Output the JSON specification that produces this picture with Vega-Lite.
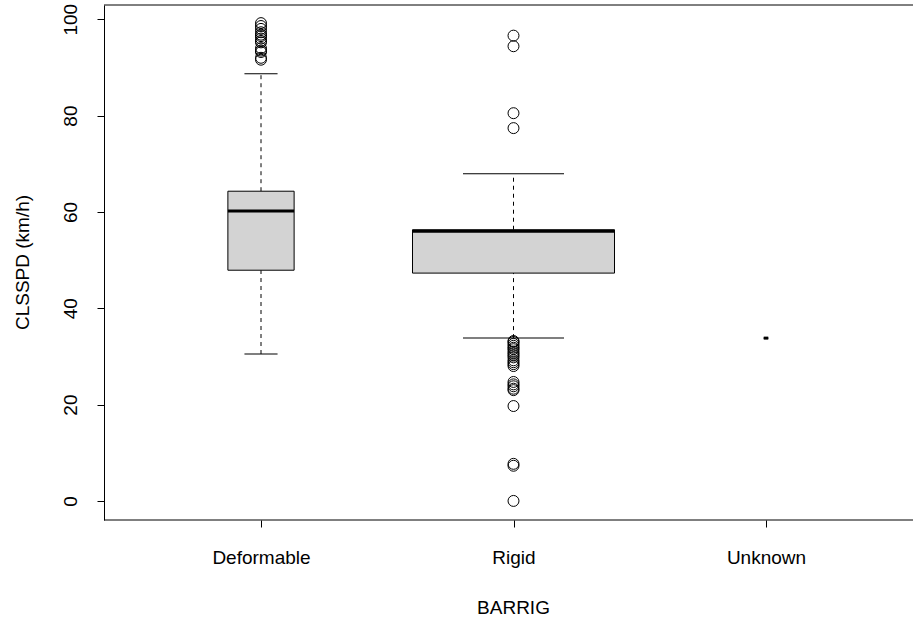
{
  "$schema": "https://vega.github.io/schema/vega-lite/v6.json",
  "autosize": {"type": "none"},
  "width": 809,
  "height": 515,
  "padding": {"left": 104, "top": 5, "right": 0, "bottom": 101},
  "background": "white",
  "config": {
    "view": {"stroke": null},
    "font": "Liberation Sans",
    "axis": {"labelFont": "Liberation Sans", "titleFont": "Liberation Sans", "labelColor": "black", "titleColor": "black", "tickColor": "black", "domainColor": "black", "grid": false, "titleFontWeight": "normal"}
  },
  "datasets": {
    "stats": [
      {"group": "Deformable", "n": 215, "lo": 30.5, "q1": 47.9, "med": 60.2, "q3": 64.3, "hi": 88.7},
      {"group": "Rigid", "n": 2000, "lo": 33.8, "q1": 47.3, "med": 56.0, "q3": 56.3, "hi": 67.9},
      {"group": "Unknown", "n": 1, "lo": 33.8, "q1": 33.8, "med": 33.8, "q3": 33.8, "hi": 33.8}
    ],
    "outliers": [
      {"group": "Deformable", "value": 99.2},
      {"group": "Deformable", "value": 98.6},
      {"group": "Deformable", "value": 98.0},
      {"group": "Deformable", "value": 97.3},
      {"group": "Deformable", "value": 96.8},
      {"group": "Deformable", "value": 96.5},
      {"group": "Deformable", "value": 96.0},
      {"group": "Deformable", "value": 95.5},
      {"group": "Deformable", "value": 95.2},
      {"group": "Deformable", "value": 94.0},
      {"group": "Deformable", "value": 93.5},
      {"group": "Deformable", "value": 93.2},
      {"group": "Deformable", "value": 92.0},
      {"group": "Deformable", "value": 91.6},
      {"group": "Rigid", "value": 96.6},
      {"group": "Rigid", "value": 94.4},
      {"group": "Rigid", "value": 80.5},
      {"group": "Rigid", "value": 77.4},
      {"group": "Rigid", "value": 33.2},
      {"group": "Rigid", "value": 33.0},
      {"group": "Rigid", "value": 32.6},
      {"group": "Rigid", "value": 32.2},
      {"group": "Rigid", "value": 31.8},
      {"group": "Rigid", "value": 31.5},
      {"group": "Rigid", "value": 31.0},
      {"group": "Rigid", "value": 30.6},
      {"group": "Rigid", "value": 30.2},
      {"group": "Rigid", "value": 29.8},
      {"group": "Rigid", "value": 29.2},
      {"group": "Rigid", "value": 28.8},
      {"group": "Rigid", "value": 28.4},
      {"group": "Rigid", "value": 28.0},
      {"group": "Rigid", "value": 24.7},
      {"group": "Rigid", "value": 24.2},
      {"group": "Rigid", "value": 23.8},
      {"group": "Rigid", "value": 23.3},
      {"group": "Rigid", "value": 23.0},
      {"group": "Rigid", "value": 19.7},
      {"group": "Rigid", "value": 7.7},
      {"group": "Rigid", "value": 7.3},
      {"group": "Rigid", "value": 0.0}
    ]
  },
  "layer": [
    {
      "data": {"name": "stats"},
      "mark": {"type": "rule", "color": "black", "strokeWidth": 1, "strokeDash": [4, 4]},
      "encoding": {
        "x": {"field": "group", "type": "nominal", "scale": {"type": "point", "domain": ["Deformable", "Rigid", "Unknown"], "range": [157, 662], "padding": 0},
          "axis": {"title": "BARRIG", "domain": false, "tickSize": 7, "labelFontSize": 19, "labelPadding": 21, "labelAngle": 0, "titleFontSize": 19, "titleX": 409, "titleY": 93, "titleBaseline": "alphabetic"}},
        "y": {"field": "q3", "type": "quantitative", "scale": {"domain": [-3.96, 102.96], "nice": false, "zero": false},
          "axis": {"title": "CLSSPD (km/h)", "values": [0, 20, 40, 60, 80, 100], "tickSize": 7, "labelFontSize": 19, "labelAngle": -90, "labelAlign": "center", "labelBaseline": "alphabetic", "labelPadding": 21, "titleFontSize": 19, "titleAngle": -90, "titleX": -76, "titleY": 257, "titleBaseline": "alphabetic", "titleAlign": "center"}},
        "y2": {"field": "hi"}
      }
    },
    {
      "data": {"name": "stats"},
      "mark": {"type": "rule", "color": "black", "strokeWidth": 1, "strokeDash": [4, 4]},
      "encoding": {
        "x": {"field": "group", "type": "nominal"},
        "y": {"field": "lo", "type": "quantitative"},
        "y2": {"field": "q1"}
      }
    },
    {
      "data": {"name": "stats"},
      "mark": {"type": "bar", "fill": "#d3d3d3", "stroke": "black", "strokeWidth": 1},
      "encoding": {
        "x": {"field": "group", "type": "nominal"},
        "y": {"field": "q1", "type": "quantitative"},
        "y2": {"field": "q3"},
        "size": {"field": "n", "type": "quantitative", "scale": {"type": "sqrt", "domain": [0, 2000], "range": [0, 202]}, "legend": null}
      }
    },
    {
      "data": {"name": "stats"},
      "mark": {"type": "tick", "color": "black", "thickness": 3, "opacity": 1},
      "encoding": {
        "x": {"field": "group", "type": "nominal"},
        "y": {"field": "med", "type": "quantitative"},
        "size": {"field": "n", "type": "quantitative", "scale": {"type": "sqrt", "domain": [0, 2000], "range": [0, 202]}, "legend": null}
      }
    },
    {
      "data": {"name": "stats"},
      "mark": {"type": "tick", "color": "black", "thickness": 1, "opacity": 1},
      "encoding": {
        "x": {"field": "group", "type": "nominal"},
        "y": {"field": "hi", "type": "quantitative"},
        "size": {"field": "n", "type": "quantitative", "scale": {"type": "sqrt", "domain": [0, 2000], "range": [0, 101]}, "legend": null}
      }
    },
    {
      "data": {"name": "stats"},
      "mark": {"type": "tick", "color": "black", "thickness": 1, "opacity": 1},
      "encoding": {
        "x": {"field": "group", "type": "nominal"},
        "y": {"field": "lo", "type": "quantitative"},
        "size": {"field": "n", "type": "quantitative", "scale": {"type": "sqrt", "domain": [0, 2000], "range": [0, 101]}, "legend": null}
      }
    },
    {
      "data": {"name": "outliers"},
      "mark": {"type": "point", "shape": "circle", "filled": false, "stroke": "black", "strokeWidth": 1, "size": 120, "opacity": 1},
      "encoding": {
        "x": {"field": "group", "type": "nominal"},
        "y": {"field": "value", "type": "quantitative"}
      }
    },
    {
      "data": {"values": [{"edge": 102.96}, {"edge": -3.96}]},
      "mark": {"type": "rule", "color": "black", "strokeWidth": 1},
      "encoding": {"y": {"field": "edge", "type": "quantitative"}}
    }
  ],
  "resolve": {"scale": {"size": "independent"}}
}
